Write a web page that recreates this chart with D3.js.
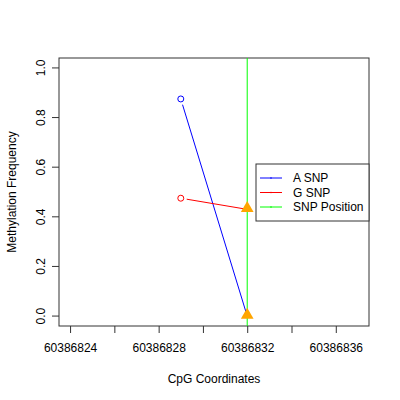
<!DOCTYPE html>
<html>
<head>
<meta charset="utf-8">
<script src="https://cdn.jsdelivr.net/npm/d3@7"></script>
<style>
  body { margin: 0; background: #fff; }
  text { font-family: "Liberation Sans", Arial, sans-serif; }
</style>
</head>
<body>
<div id="chart"></div>
<script>
// data
const snpPosition = 60386832;
const aSnpX = [60386829, 60386832];
const aSnpY = [0.875, 0.0];
const gSnpX = [60386829, 60386832];
const gSnpY = [0.475, 0.43];
const xTicks = [60386824, 60386826, 60386828, 60386830, 60386832, 60386834, 60386836];
const xLabels = [60386824, 60386828, 60386832, 60386836];
const yTicks = [0, 0.2, 0.4, 0.6, 0.8, 1.0];
const legendNames = ["A SNP", "G SNP", "SNP Position"];
const legendColors = ["#0000ff", "#ff0000", "#00ff00"];

const width = 400, height = 400;
const box = { left: 59, right: 369, top: 58, bottom: 326 };

const svg = d3.select("#chart").append("svg")
  .attr("width", width)
  .attr("height", height);

const x = d3.scaleLinear().domain([60386823.5, 60386837.5]).range([box.left, box.right]);
const y = d3.scaleLinear().domain([-0.04, 1.04]).range([box.bottom, box.top]);

// plot frame
svg.append("rect")
  .attr("x", box.left).attr("y", box.top)
  .attr("width", box.right - box.left).attr("height", box.bottom - box.top)
  .attr("fill", "none").attr("stroke", "#333").attr("stroke-width", 1);

// x axis
const xAxis = svg.append("g").attr("transform", `translate(0,${box.bottom})`)
  .call(d3.axisBottom(x).tickValues(xTicks).tickSize(7).tickPadding(10)
    .tickFormat(d => xLabels.includes(d) ? d3.format("d")(d) : ""));
xAxis.select(".domain").remove();
xAxis.selectAll("line").attr("stroke", "#333");
xAxis.selectAll("text").attr("font-size", 12).attr("fill", "#000")
  .style("font-family", "Liberation Sans, Arial, sans-serif");

// y axis
const yAxis = svg.append("g").attr("transform", `translate(${box.left},0)`)
  .call(d3.axisLeft(y).tickValues(yTicks).tickSize(7).tickFormat(d3.format(".1f")));
yAxis.select(".domain").remove();
yAxis.selectAll("line").attr("stroke", "#333");
yAxis.selectAll("text")
  .attr("font-size", 12).attr("fill", "#000")
  .attr("x", 0).attr("dy", 0)
  .attr("text-anchor", "middle")
  .attr("transform", d => `translate(-14,${y(d)}) rotate(-90)`)
  .attr("y", 0)
  .style("font-family", "Liberation Sans, Arial, sans-serif");
yAxis.selectAll(".tick").attr("transform", null);
yAxis.selectAll(".tick line").attr("transform", d => `translate(0,${y(d)})`);

// axis titles
svg.append("text")
  .attr("x", (box.left + box.right) / 2).attr("y", 383)
  .attr("text-anchor", "middle").attr("font-size", 12)
  .text("CpG Coordinates");
svg.append("text")
  .attr("transform", `translate(16,${(box.top + box.bottom) / 2}) rotate(-90)`)
  .attr("text-anchor", "middle").attr("font-size", 12)
  .text("Methylation Frequency");

// SNP position line
svg.append("line")
  .attr("x1", x(snpPosition)).attr("x2", x(snpPosition))
  .attr("y1", box.top).attr("y2", box.bottom)
  .attr("stroke", legendColors[2]).attr("stroke-width", 1);

// series lines with a gap at the open circle
function drawSeries(xs, ys, color) {
  const x0 = x(xs[0]), y0 = y(ys[0]), x1 = x(xs[1]), y1 = y(ys[1]);
  const len = Math.hypot(x1 - x0, y1 - y0);
  const gap = 6;
  svg.append("line")
    .attr("x1", x0 + (x1 - x0) * gap / len).attr("y1", y0 + (y1 - y0) * gap / len)
    .attr("x2", x1).attr("y2", y1)
    .attr("stroke", color).attr("stroke-width", 1);
  svg.append("circle")
    .attr("cx", x0).attr("cy", y0).attr("r", 3)
    .attr("fill", "none").attr("stroke", color).attr("stroke-width", 1);
}
drawSeries(aSnpX, aSnpY, legendColors[0]);
drawSeries(gSnpX, gSnpY, legendColors[1]);

// triangles at SNP position
const tri = d3.symbol().type(d3.symbolTriangle).size(70);
[[gSnpX[1], gSnpY[1]], [aSnpX[1], aSnpY[1]]].forEach(([px, py]) => {
  svg.append("path")
    .attr("d", tri)
    .attr("transform", `translate(${x(px)},${y(py) - 1})`)
    .attr("fill", "#ffa500");
});

// legend
const lg = svg.append("g");
lg.append("rect")
  .attr("x", 256).attr("y", 164).attr("width", 113).attr("height", 57)
  .attr("fill", "#fff").attr("stroke", "#333");
legendNames.forEach((name, i) => {
  const ly = 178 + i * 14.5;
  lg.append("line").attr("x1", 260).attr("x2", 282).attr("y1", ly).attr("y2", ly)
    .attr("stroke", legendColors[i]);
  lg.append("circle").attr("cx", 271).attr("cy", ly).attr("r", 0.8).attr("fill", legendColors[i]);
  lg.append("text").attr("x", 293).attr("y", ly + 4).attr("font-size", 12).text(name);
});
</script>
</body>
</html>
